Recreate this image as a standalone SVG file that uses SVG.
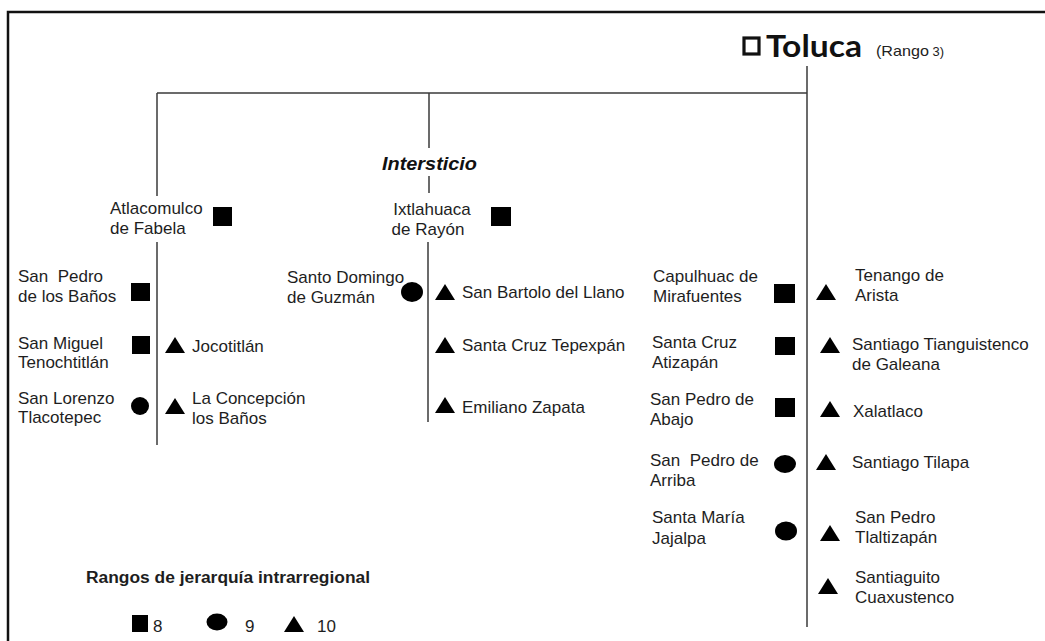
<svg xmlns="http://www.w3.org/2000/svg" width="1045" height="641" viewBox="0 0 1045 641">
<style>
  text { font-family: "Liberation Sans", Arial, sans-serif; font-size: 17px; fill: #1e1e1e; white-space: pre; }
  .ln { stroke: #3a3a3a; stroke-width: 1.5; fill: none; }
  .sym { fill: #000; }
  .ttl { font-family: "Lato", "Liberation Sans", sans-serif; font-weight: bold; font-size: 31px; fill: #111; }
  .rg { font-family: "Liberation Sans Narrow", "Liberation Sans", sans-serif; font-size: 15px; fill: #222; }
  .ins { font-family: "Liberation Sans", Arial, sans-serif; font-weight: bold; font-style: italic; font-size: 18px; fill: #111; }
  .leg { font-weight: bold; font-size: 16px; }
  .num { font-size: 17px; }
</style>
<defs>
  <path id="tri" d="M0,16 L10,0 L20,16 Z"/>
</defs>
<rect x="0" y="0" width="1045" height="641" fill="#fff"/>
<path d="M8,641 L8,12 L1045,12" fill="none" stroke="#111" stroke-width="2.5"/>

<g id="connectors">
  <line class="ln" x1="807" y1="66" x2="807" y2="627"/>
  <line class="ln" x1="157" y1="93" x2="807" y2="93"/>
  <line class="ln" x1="157" y1="93" x2="157" y2="196"/>
  <line class="ln" x1="157" y1="242" x2="157" y2="445"/>
  <line class="ln" x1="429" y1="93" x2="429" y2="148"/>
  <line class="ln" x1="429" y1="176" x2="429" y2="193"/>
  <line class="ln" x1="428" y1="242" x2="428" y2="422"/>
</g>

<g id="toluca">
  <rect x="744" y="38" width="15" height="16" fill="none" stroke="#111" stroke-width="3.2"/>
  <text class="ttl" x="766" y="57" textLength="96" lengthAdjust="spacingAndGlyphs">Toluca</text>
  <text class="rg" x="876" y="56" textLength="68" lengthAdjust="spacingAndGlyphs">(Rango<tspan font-size="12"> 3)</tspan></text>
</g>

<g id="intersticio">
  <text class="ins" x="382" y="170" textLength="95" lengthAdjust="spacingAndGlyphs">Intersticio</text>
</g>

<g id="atlacomulco">
  <text x="110" y="214">Atlacomulco</text>
  <text x="110" y="234">de Fabela</text>
  <rect class="sym" x="213" y="207" width="19" height="19"/>
</g>
<g id="san-pedro-banos">
  <text x="18" y="282">San  Pedro</text>
  <text x="18" y="302">de los Baños</text>
  <rect class="sym" x="131" y="283" width="19" height="18"/>
</g>
<g id="san-miguel">
  <text x="18" y="349">San Miguel</text>
  <text x="18" y="368">Tenochtitlán</text>
  <rect class="sym" x="132" y="336" width="18" height="18"/>
</g>
<g id="jocotitlan">
  <use href="#tri" class="sym" x="165" y="337"/>
  <text x="192" y="352">Jocotitlán</text>
</g>
<g id="san-lorenzo">
  <text x="18" y="404">San Lorenzo</text>
  <text x="18" y="423">Tlacotepec</text>
  <ellipse class="sym" cx="140" cy="406" rx="9" ry="9"/>
</g>
<g id="la-concepcion">
  <use href="#tri" class="sym" x="165" y="398"/>
  <text x="192" y="404">La Concepción</text>
  <text x="192" y="424">los Baños</text>
</g>

<g id="ixtlahuaca">
  <text x="432" y="215" text-anchor="middle">Ixtlahuaca</text>
  <text x="428" y="235" text-anchor="middle">de Rayón</text>
  <rect class="sym" x="491" y="207" width="20" height="19"/>
</g>
<g id="santo-domingo">
  <text x="287" y="283">Santo Domingo</text>
  <text x="287" y="303">de Guzmán</text>
  <ellipse class="sym" cx="412" cy="292" rx="11" ry="10"/>
</g>
<g id="san-bartolo">
  <use href="#tri" class="sym" x="435" y="284"/>
  <text x="462" y="298">San Bartolo del Llano</text>
</g>
<g id="santa-cruz-tepexpan">
  <use href="#tri" class="sym" x="435" y="337"/>
  <text x="462" y="351">Santa Cruz Tepexpán</text>
</g>
<g id="emiliano-zapata">
  <use href="#tri" class="sym" x="435" y="397"/>
  <text x="462" y="413">Emiliano Zapata</text>
</g>

<g id="capulhuac">
  <text x="653" y="282">Capulhuac de</text>
  <text x="653" y="302">Mirafuentes</text>
  <rect class="sym" x="774" y="284" width="21" height="19"/>
</g>
<g id="tenango">
  <use href="#tri" class="sym" x="816" y="284"/>
  <text x="855" y="281">Tenango de</text>
  <text x="855" y="301">Arista</text>
</g>
<g id="santa-cruz-atizapan">
  <text x="652" y="348">Santa Cruz</text>
  <text x="652" y="368">Atizapán</text>
  <rect class="sym" x="775" y="337" width="20" height="18"/>
</g>
<g id="santiago-tianguistenco">
  <use href="#tri" class="sym" x="820" y="337"/>
  <text x="852" y="350">Santiago Tianguistenco</text>
  <text x="852" y="370">de Galeana</text>
</g>
<g id="san-pedro-abajo">
  <text x="650" y="405">San Pedro de</text>
  <text x="650" y="425">Abajo</text>
  <rect class="sym" x="775" y="398" width="20" height="19"/>
</g>
<g id="xalatlaco">
  <use href="#tri" class="sym" x="820" y="401"/>
  <text x="853" y="417">Xalatlaco</text>
</g>
<g id="san-pedro-arriba">
  <text x="650" y="466">San  Pedro de</text>
  <text x="650" y="486">Arriba</text>
  <ellipse class="sym" cx="785" cy="464" rx="11" ry="9"/>
</g>
<g id="santiago-tilapa">
  <use href="#tri" class="sym" x="816" y="454"/>
  <text x="852" y="468">Santiago Tilapa</text>
</g>
<g id="santa-maria-jajalpa">
  <text x="652" y="523">Santa María</text>
  <text x="652" y="544">Jajalpa</text>
  <ellipse class="sym" cx="786" cy="531" rx="11" ry="9.5"/>
</g>
<g id="san-pedro-tlaltizapan">
  <use href="#tri" class="sym" x="820" y="525"/>
  <text x="855" y="523">San Pedro</text>
  <text x="855" y="543">Tlaltizapán</text>
</g>
<g id="santiaguito">
  <use href="#tri" class="sym" x="818" y="578"/>
  <text x="855" y="583">Santiaguito</text>
  <text x="855" y="603">Cuaxustenco</text>
</g>

<g id="legend">
  <text class="leg" x="86" y="583" textLength="284" lengthAdjust="spacingAndGlyphs">Rangos de jerarquía intrarregional</text>
  <rect class="sym" x="132" y="615" width="16" height="17"/>
  <text class="num" x="153" y="632">8</text>
  <ellipse class="sym" cx="217" cy="622" rx="10.5" ry="8.5"/>
  <text class="num" x="245" y="632">9</text>
  <use href="#tri" class="sym" x="284" y="616"/>
  <text class="num" x="317" y="632">10</text>
</g>
</svg>
